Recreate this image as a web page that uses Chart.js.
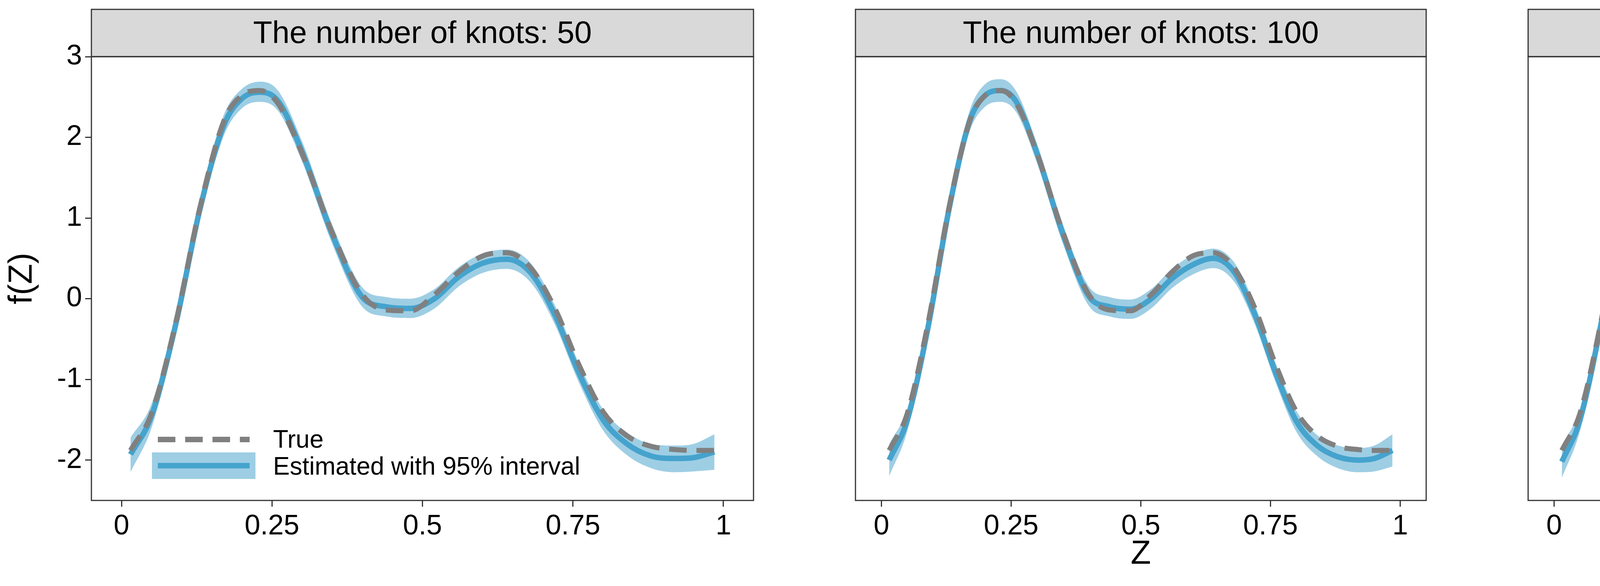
<!DOCTYPE html>
<html>
<head>
<meta charset="utf-8">
<script src="https://cdn.jsdelivr.net/npm/chart.js@4"></script>
<style>
  html, body { margin: 0; padding: 0; background: #fff; }
  body { width: 5400px; height: 1500px; position: relative; overflow: hidden; }
  .panel { position: absolute; top: 0; height: 1500px; }
</style>
</head>
<body>
<div class="panel" id="p1"><canvas id="c1"></canvas></div>
<div class="panel" id="p2"><canvas id="c2"></canvas></div>
<div class="panel" id="p3"><canvas id="c3"></canvas></div>
<script>
// data
const zValues = [0.015, 0.05, 0.09, 0.13, 0.17, 0.2, 0.23, 0.26, 0.3, 0.35, 0.4, 0.44, 0.48, 0.52, 0.56, 0.6, 0.64, 0.68, 0.72, 0.76, 0.8, 0.84, 0.88, 0.92, 0.95, 0.985];
const trueValues = [-1.88, -1.42, -0.3, 1.12, 2.2, 2.52, 2.58, 2.42, 1.8, 0.82, 0.05, -0.14, -0.15, 0.05, 0.33, 0.53, 0.57, 0.38, -0.12, -0.82, -1.4, -1.7, -1.83, -1.87, -1.88, -1.88];

const est50 = [-1.93, -1.45, -0.32, 1.1, 2.15, 2.48, 2.56, 2.45, 1.82, 0.8, 0.02, -0.1, -0.12, 0.0, 0.27, 0.44, 0.49, 0.32, -0.2, -0.92, -1.5, -1.8, -1.95, -1.98, -1.97, -1.9];
const low50 = [-2.15, -1.6, -0.45, 0.98, 2.02, 2.36, 2.44, 2.33, 1.7, 0.68, -0.1, -0.22, -0.24, -0.12, 0.15, 0.32, 0.37, 0.2, -0.32, -1.04, -1.63, -1.94, -2.1, -2.15, -2.14, -2.12];
const up50 = [-1.72, -1.3, -0.19, 1.23, 2.28, 2.6, 2.69, 2.58, 1.95, 0.92, 0.14, 0.02, 0.0, 0.12, 0.39, 0.56, 0.61, 0.44, -0.08, -0.8, -1.37, -1.66, -1.8, -1.82, -1.8, -1.68];

const est100 = [-2.0, -1.5, -0.35, 1.1, 2.2, 2.52, 2.58, 2.44, 1.8, 0.8, 0.03, -0.1, -0.13, 0.0, 0.25, 0.42, 0.5, 0.33, -0.2, -0.92, -1.52, -1.82, -1.96, -2.0, -1.98, -1.88];
const low100 = [-2.2, -1.64, -0.47, 0.98, 2.07, 2.38, 2.44, 2.31, 1.68, 0.68, -0.09, -0.22, -0.25, -0.12, 0.13, 0.3, 0.38, 0.21, -0.32, -1.04, -1.65, -1.95, -2.1, -2.15, -2.14, -2.08];
const up100 = [-1.8, -1.36, -0.23, 1.22, 2.33, 2.66, 2.72, 2.57, 1.92, 0.92, 0.15, 0.02, -0.01, 0.12, 0.37, 0.54, 0.62, 0.45, -0.08, -0.8, -1.39, -1.69, -1.82, -1.85, -1.82, -1.68];

const est200 = [-2.02, -1.5, -0.33, 1.12, 2.22, 2.54, 2.6, 2.45, 1.8, 0.8, 0.03, -0.1, -0.13, 0.0, 0.25, 0.42, 0.49, 0.32, -0.2, -0.93, -1.53, -1.84, -1.98, -2.02, -2.0, -1.9];
const low200 = [-2.22, -1.64, -0.45, 1.0, 2.09, 2.4, 2.46, 2.32, 1.68, 0.68, -0.09, -0.22, -0.25, -0.12, 0.13, 0.3, 0.37, 0.2, -0.32, -1.05, -1.66, -1.97, -2.12, -2.17, -2.15, -2.1];
const up200 = [-1.82, -1.36, -0.21, 1.24, 2.35, 2.68, 2.74, 2.58, 1.92, 0.92, 0.15, 0.02, -0.01, 0.12, 0.37, 0.54, 0.61, 0.44, -0.08, -0.81, -1.4, -1.71, -1.84, -1.87, -1.85, -1.7];

const panelTitles = ["The number of knots: 50", "The number of knots: 100", "The number of knots: 200"];
const xTicks = [0, 0.25, 0.5, 0.75, 1];
const xTickLabels = ["0", "0.25", "0.5", "0.75", "1"];
const yTicks = [-2, -1, 0, 1, 2, 3];
const legendLabels = ["True", "Estimated with 95% interval"];

const FONT = "'Liberation Sans', Arial, sans-serif";
const bandColor = "rgba(158, 206, 228, 1)";
const lineColor = "#45a3cd";
const trueColor = "#808080";

const pts = (ys) => zValues.map((z, i) => ({ x: z, y: ys[i] }));

// strip, border, legend and axis titles
const panelDecor = {
  id: "panelDecor",
  afterDraw(chart, args, opts) {
    const { ctx, chartArea: a } = chart;
    ctx.save();
    ctx.fillStyle = "#d9d9d9";
    ctx.fillRect(a.left, 24, a.right - a.left, 145 - 24);
    ctx.strokeStyle = "#333";
    ctx.lineWidth = 3;
    ctx.strokeRect(a.left, 24, a.right - a.left, 145 - 24);
    ctx.fillStyle = "#000";
    ctx.font = "80px " + FONT;
    ctx.textAlign = "center";
    ctx.textBaseline = "middle";
    ctx.fillText(opts.title, (a.left + a.right) / 2, 88);
    ctx.strokeRect(a.left, a.top, a.right - a.left, a.bottom - a.top);

    if (opts.yTitle) {
      ctx.save();
      ctx.translate(58, (a.top + a.bottom) / 2);
      ctx.rotate(-Math.PI / 2);
      ctx.font = "85px " + FONT;
      ctx.fillText("f(Z)", 0, 0);
      ctx.restore();
    }
    if (opts.xTitle) {
      ctx.font = "85px " + FONT;
      ctx.fillText("Z", (a.left + a.right) / 2, 1420);
    }
    if (opts.legend) {
      const x0 = a.left + 155, x1 = a.left + 420;
      ctx.setLineDash([45, 25]);
      ctx.strokeStyle = trueColor;
      ctx.lineWidth = 14;
      ctx.beginPath(); ctx.moveTo(x0 + 15, 1125); ctx.lineTo(x1 - 15, 1125); ctx.stroke();
      ctx.setLineDash([]);
      ctx.fillStyle = bandColor;
      ctx.fillRect(x0, 1158, x1 - x0, 68);
      ctx.strokeStyle = lineColor;
      ctx.beginPath(); ctx.moveTo(x0 + 15, 1192); ctx.lineTo(x1 - 15, 1192); ctx.stroke();
      ctx.fillStyle = "#000";
      ctx.font = "64px " + FONT;
      ctx.textAlign = "left";
      ctx.fillText(legendLabels[0], x1 + 45, 1128);
      ctx.fillText(legendLabels[1], x1 + 45, 1197);
    }
    ctx.restore();
  }
};

function makePanel(id, left, width, padLeft, padRight, est, low, up, opts) {
  const box = document.getElementById("p" + id.slice(1));
  box.style.left = left + "px";
  box.style.width = width + "px";
  new Chart(document.getElementById(id), {
    type: "line",
    data: {
      datasets: [
        { data: pts(low), borderWidth: 0, pointRadius: 0, fill: false, order: 4, cubicInterpolationMode: "monotone" },
        { data: pts(up), borderWidth: 0, pointRadius: 0, fill: "-1", backgroundColor: bandColor, order: 3, cubicInterpolationMode: "monotone" },
        { data: pts(est), borderColor: lineColor, borderWidth: 14, pointRadius: 0, fill: false, order: 2, cubicInterpolationMode: "monotone" },
        { data: pts(trueValues), borderColor: trueColor, borderWidth: 13, borderDash: [45, 25], pointRadius: 0, fill: false, order: 1, cubicInterpolationMode: "monotone" }
      ]
    },
    options: {
      responsive: true,
      maintainAspectRatio: false,
      devicePixelRatio: 1,
      animation: false,
      layout: { padding: { top: 145, left: padLeft, right: padRight, bottom: 0 } },
      plugins: { legend: { display: false }, tooltip: { enabled: false }, panelDecor: opts },
      scales: {
        x: {
          type: "linear", min: -0.05, max: 1.05,
          afterBuildTicks: (s) => { s.ticks = xTicks.map(v => ({ value: v })); },
          afterFit: (s) => { s.height = 1500 - 1281; },
          ticks: {
            callback: (v) => xTickLabels[xTicks.indexOf(v)],
            font: { size: 72, family: FONT }, color: "#000", padding: 8, maxRotation: 0
          },
          grid: { drawOnChartArea: false, tickLength: 16, color: "#333", lineWidth: 3 },
          border: { display: false }
        },
        y: {
          min: -2.5, max: 3,
          display: opts.yTitle ? true : false,
          afterBuildTicks: (s) => { s.ticks = yTicks.map(v => ({ value: v })); },
          afterFit: (s) => { s.width = 234; },
          ticks: { font: { size: 72, family: FONT }, color: "#000", padding: 8 },
          grid: { drawOnChartArea: false, tickLength: 16, color: "#333", lineWidth: 3 },
          border: { display: false }
        }
      }
    },
    plugins: [panelDecor]
  });
}

makePanel("c1", 0, 1940, 0, 11, est50, low50, up50, { title: panelTitles[0], yTitle: true, legend: true });
makePanel("c2", 1940, 1722, 16, 11, est100, low100, up100, { title: panelTitles[1], xTitle: true });
makePanel("c3", 3662, 1738, 16, 27, est200, low200, up200, { title: panelTitles[2] });
</script>
</body>
</html>
